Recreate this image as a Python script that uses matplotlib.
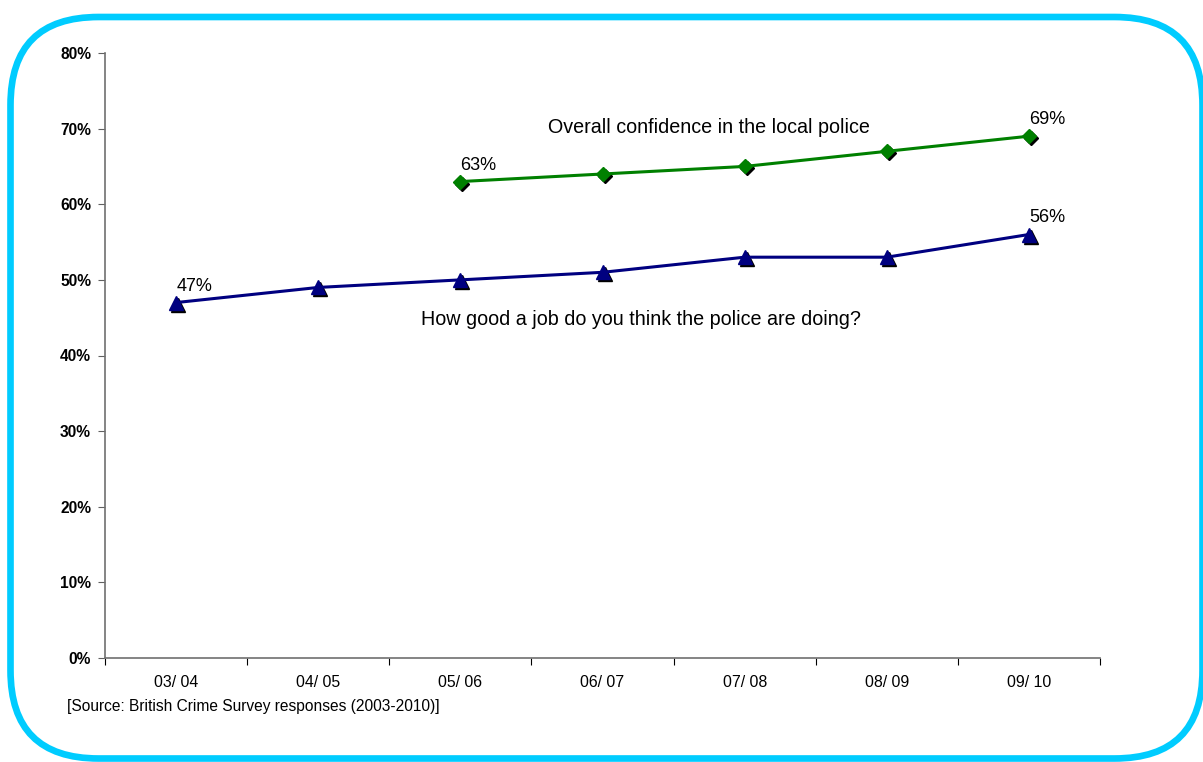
import matplotlib
matplotlib.use("Agg")
import matplotlib.pyplot as plt
import matplotlib.transforms as mtransforms
from matplotlib.patches import FancyBboxPatch
import numpy as np

plt.rcParams['font.family'] = ['Liberation Sans', 'DejaVu Sans']

categories = ["03/ 04", "04/ 05", "05/ 06", "06/ 07", "07/ 08", "08/ 09", "09/ 10"]
job_values = [47, 49, 50, 51, 53, 53, 56]
conf_values = [None, None, 63, 64, 65, 67, 69]
yticks = [0, 10, 20, 30, 40, 50, 60, 70, 80]

W, H = 1203, 762
fig = plt.figure(figsize=(W / 100, H / 100), dpi=100)

# rounded cyan border (display coords)
border = FancyBboxPatch((10.5, 3.5), 1192, 741.5,
                        boxstyle="round,pad=0,rounding_size=88",
                        transform=None, fill=False, edgecolor="#00CCFF",
                        linewidth=4.8, zorder=0)
fig.patches.append(border)

ax = fig.add_axes([105 / W, 1 - 658 / H, (1100 - 105) / W, (658 - 53) / H])
ax.set_facecolor("none")

x = np.arange(len(categories))
cx = [i for i, v in zip(x, conf_values) if v is not None]
cy = [v for v in conf_values if v is not None]

shadow = mtransforms.offset_copy(ax.transData, fig=fig, x=2, y=-2, units='dots')

# shadows
ax.plot(x, job_values, linestyle='none', marker='^', markersize=10,
        color='black', transform=shadow, zorder=3)
ax.plot(cx, cy, linestyle='none', marker='D', markersize=7.5,
        color='black', transform=shadow, zorder=3)
# series
ax.plot(x, job_values, color='#000080', linewidth=2.2, marker='^',
        markersize=10, markeredgecolor='#000080', zorder=4)
ax.plot(cx, cy, color='#008000', linewidth=2.2, marker='D',
        markersize=7.5, markeredgecolor='#008000', zorder=4)

# data labels
def lab(xi, yi):
    ax.annotate(f"{yi}%", (xi, yi), xytext=(18, 8), textcoords='offset pixels',
                ha='center', va='bottom', fontsize=13)

lab(x[0], job_values[0])
lab(x[-1], job_values[-1])
lab(cx[0], cy[0])
lab(cx[-1], cy[-1])

ax.text(3.75, 70.2, "Overall confidence in the local police", ha='center',
        va='center', fontsize=14.2)
ax.text(3.27, 44.7, "How good a job do you think the police are doing?",
        ha='center', va='center', fontsize=14.2)

ax.set_xlim(-0.5, len(categories) - 0.5)
ax.set_ylim(0, 80)
ax.set_yticks(yticks)
ax.set_yticklabels([f"{v}%" for v in yticks], fontweight='bold', fontsize=11.2)
ax.set_xticks(np.arange(-0.5, len(categories), 1.0))
ax.set_xticklabels([])
ax.set_xticks(x, minor=True)
ax.set_xticklabels(categories, minor=True, fontsize=11.4)
ax.tick_params(axis='x', which='minor', length=0, pad=12)
ax.tick_params(axis='x', which='major', length=5, direction='out', color='black')
ax.tick_params(axis='y', length=5, direction='out', pad=5, color='#606060')

for s in ['top', 'right']:
    ax.spines[s].set_visible(False)
for s in ['left', 'bottom']:
    ax.spines[s].set_color('#707070')
    ax.spines[s].set_linewidth(1.2)

fig.text(67 / W, 1 - 706 / H, "[Source: British Crime Survey responses (2003-2010)]",
         ha='left', va='center', fontsize=11.2)

fig.savefig("out.png", dpi=100)
